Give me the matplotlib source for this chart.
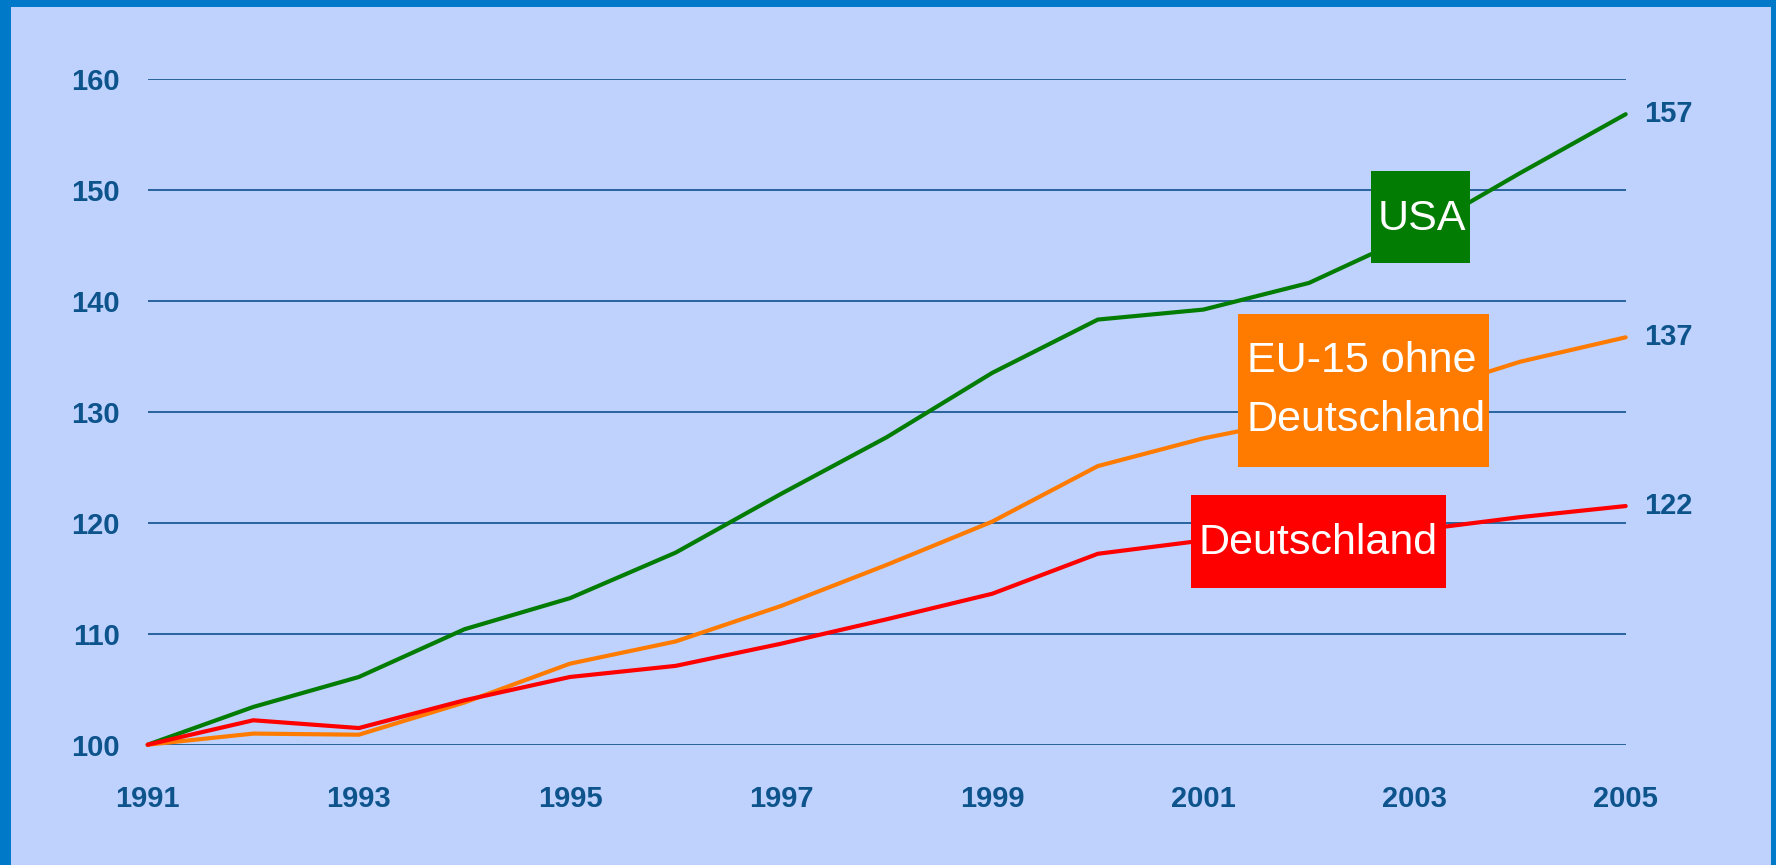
import matplotlib.pyplot as plt
from matplotlib.patches import Rectangle

# index 1991 = 100
years = list(range(1991, 2006))
usa = [100, 103.4, 106.1, 110.4, 113.2, 117.3, 122.6, 127.7, 133.5, 138.3, 139.2, 141.6, 146.0, 151.5, 156.8]
eu15 = [100, 101.0, 100.9, 103.8, 107.3, 109.3, 112.5, 116.2, 120.1, 125.1, 127.6, 129.5, 131.5, 134.5, 136.7]
deutschland = [100, 102.2, 101.5, 104.0, 106.1, 107.1, 109.1, 111.3, 113.6, 117.2, 118.4, 118.8, 119.3, 120.5, 121.5]
yticks = [100, 110, 120, 130, 140, 150, 160]
xticks = [1991, 1993, 1995, 1997, 1999, 2001, 2003, 2005]

border = '#0079c8'
bg = '#bfd2fe'
txtcol = '#0e548c'
gridcol = '#1d5a96'
green = '#037c03'
orange = '#ff7b00'
red = '#ff0000'

fig = plt.figure(figsize=(17.76, 8.65), dpi=100)
fig.patch.set_facecolor(border)
fig.patches.append(Rectangle((11 / 1776, 0), 1760 / 1776, 1 - 7 / 865,
                             transform=fig.transFigure, facecolor=bg,
                             edgecolor='none', zorder=-10))

ax = fig.add_axes([0.08316, 0.13908, 0.8322, 0.76994])
ax.set_facecolor('none')
ax.set_xlim(1991, 2005)
ax.set_ylim(100, 160)
for s in ax.spines.values():
    s.set_visible(False)

for v in yticks:
    ax.axhline(v, color=gridcol, lw=1.3, zorder=1)

tickfont = dict(family=['Liberation Sans', 'DejaVu Sans'], size=21, weight='bold')
ax.set_yticks(yticks)
ax.set_yticklabels([str(v) for v in yticks], color=txtcol, **tickfont)
ax.set_xticks(xticks)
ax.set_xticklabels([str(v) for v in xticks], color=txtcol, **tickfont)
ax.tick_params(axis='y', length=0, pad=20)
ax.tick_params(axis='x', length=0, pad=29)

series = [(usa, green), (eu15, orange), (deutschland, red)]
for vals, col in series:
    ax.plot(years, vals, color=col, lw=3, solid_capstyle='round',
            solid_joinstyle='round', clip_on=False, zorder=3)
    ax.annotate(str(round(vals[-1])), (years[-1], vals[-1]),
                xytext=(13, 0), textcoords='offset points',
                ha='left', va='center', color=txtcol, **tickfont)

# label boxes
boxfont = dict(family=['Liberation Sans', 'DejaVu Sans'], size=31, color='white')
ax.add_patch(Rectangle((2002.59, 143.4), 0.94, 8.3, facecolor=green, zorder=4))
ax.text(2003.07, 147.4, 'USA', ha='center', va='center', zorder=5, **boxfont)

ax.add_patch(Rectangle((2001.33, 125.0), 2.38, 13.8, facecolor=orange, zorder=4))
ax.text(2001.41, 131.9, 'EU-15 ohne\nDeutschland', ha='left', va='center',
        linespacing=1.6, zorder=5, **boxfont)

ax.add_patch(Rectangle((2000.88, 114.1), 2.42, 8.4, facecolor=red, zorder=4))
ax.text(2002.09, 118.2, 'Deutschland', ha='center', va='center', zorder=5, **boxfont)

fig.savefig('out.png', dpi=100, facecolor=fig.get_facecolor())
